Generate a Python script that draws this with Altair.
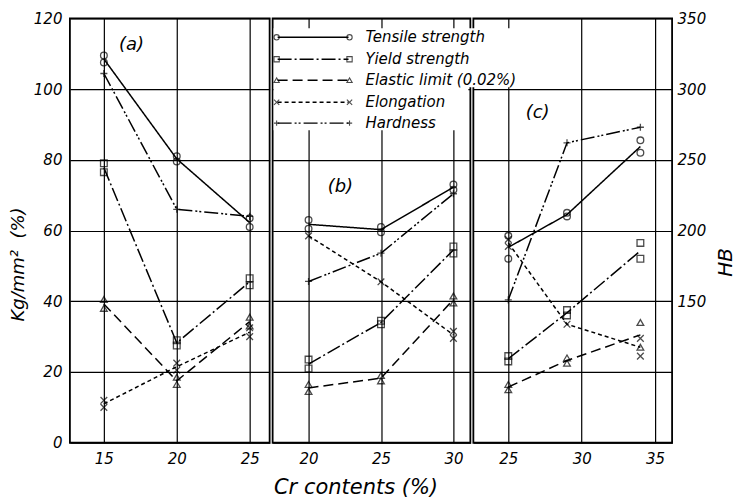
import altair as alt
import pandas as pd

FONT = "DejaVu Sans"

SERIES = ["Tensile strength", "Yield strength", "Elastic limit (0.02%)", "Elongation", "Hardness"]
DASHES = [[1, 0], [14, 3, 2, 3], [10, 5], [4, 3], [14, 3, 2, 2, 2, 3]]
X_PATH = "M-1,-1L1,1M-1,1L1,-1"
PLUS_PATH = "M-1,0L1,0M0,-1L0,1"
SHAPES = ["circle", "square", "triangle-up", X_PATH, PLUS_PATH]

KG_TICKS = [0, 20, 40, 60, 80, 100, 120]
HB_TICKS = [150, 200, 250, 300, 350]

# panel (a)
A_X = [15, 20, 25]
A_XTICKS = [15, 20, 25]
A_TENSILE = [[109.5, 107.5], [81.0, 79.5], [63.5, 61.0]]
A_YIELD = [[79.0, 76.5], [29.0, 27.5], [46.5, 44.5]]
A_ELASTIC = [[40.5, 38.0], [18.5, 16.5], [35.5, 33.0]]
A_ELONG = [[12.0, 10.0], [22.5, 20.5], [32.5, 30.0]]
A_HB = [[311], [215], [210]]

# panel (b)
B_X = [20, 25, 30]
B_XTICKS = [20, 25, 30]
B_TENSILE = [[63.0, 60.5], [61.0, 59.5], [73.0, 71.5]]
B_YIELD = [[23.5, 21.0], [34.5, 33.5], [55.5, 53.5]]
B_ELASTIC = [[16.5, 14.5], [19.0, 17.5], [41.5, 39.5]]
B_ELONG = [[58.5], [45.5], [31.5, 29.5]]
B_HB = [[164], [184], [226]]

# panel (c)
C_X = [25, 29, 34]
C_XTICKS = [25, 30, 35]
C_TENSILE = [[58.5, 52.0], [65.0, 64.0], [85.5, 82.0]]
C_YIELD = [[24.5, 23.0], [37.5, 36.0], [56.5, 52.0]]
C_ELASTIC = [[16.5, 15.0], [24.0, 22.5], [34.0, 27.0]]
C_ELONG = [[57.5, 55.5], [33.5], [29.5, 24.5]]
C_HB = [[151], [262], [273]]

PANEL_LABELS = ["(a)", "(b)", "(c)"]
PANEL_LABEL_X = [16.9, 22.2, 27.0]
PANEL_LABEL_Y = [112.5, 72.3, 93.2]

PLOT_H = 425


def build_long(xs, names, arrays, field):
    rows = []
    for name, arr in zip(names, arrays):
        for xv, vals in zip(xs, arr):
            for v in vals:
                rows.append({"x": xv, "series": name, field: v})
    return pd.DataFrame(rows)


ONE = pd.DataFrame({"k": [0]})

dash_scale = alt.Scale(domain=SERIES[:4], range=DASHES[:4])
shape_scale = alt.Scale(domain=SERIES[:4], range=SHAPES[:4])
kg_scale = alt.Scale(domain=[0, 120], nice=False, zero=False)
hb_scale = alt.Scale(domain=[50, 350], nice=False, zero=False)


def make_panel(idx, xs, xticks, domain, width, arrays, hb):
    df = build_long(xs, SERIES[:4], arrays, "value")
    dhb = build_long(xs, ["Hardness"], [hb], "hb")

    if idx == 1:
        x_axis = alt.Axis(values=xticks, grid=True, ticks=False, domain=False,
                          labelPadding=9, title="Cr contents (%)", titleX=83,
                          titlePadding=10, titleFontSize=21)
    else:
        x_axis = alt.Axis(values=xticks, grid=True, ticks=False, domain=False,
                          labelPadding=9, title="")
    x_enc = alt.X("x:Q", scale=alt.Scale(domain=domain, nice=False, zero=False), axis=x_axis)

    if idx == 0:
        kg_axis = alt.Axis(values=KG_TICKS, grid=True, ticks=False, domain=False,
                           labelPadding=8, title="Kg/mm²\u00a0\u00a0(%)",
                           titlePadding=6, titleY=246, titleAngle=270, titleFontSize=18)
    else:
        kg_axis = alt.Axis(values=KG_TICKS, grid=True, ticks=False, domain=False,
                           labels=False, title="")

    lines = alt.Chart(df).mark_line(color="black", strokeWidth=1.5).encode(
        x=x_enc,
        y=alt.Y("mean(value):Q", scale=kg_scale, axis=kg_axis),
        strokeDash=alt.StrokeDash("series:N", scale=dash_scale, legend=None),
        detail="series:N",
    )
    points = alt.Chart(df).mark_point(color="black", filled=False, size=45, strokeWidth=1.3).encode(
        x=x_enc,
        y=alt.Y("value:Q", scale=kg_scale, axis=kg_axis),
        shape=alt.Shape("series:N", scale=shape_scale, legend=None),
    )
    lab_df = pd.DataFrame({"x": [PANEL_LABEL_X[idx]], "value": [PANEL_LABEL_Y[idx]],
                           "t": [PANEL_LABELS[idx]]})
    label = alt.Chart(lab_df).mark_text(font=FONT, fontStyle="italic", fontSize=18,
                                        color="black").encode(
        x=x_enc, y=alt.Y("value:Q", scale=kg_scale, axis=kg_axis), text="t:N")
    kg_group = alt.layer(lines, points, label)

    if idx == 2:
        hb_axis = alt.Axis(values=HB_TICKS, orient="right", grid=False, ticks=False,
                           domain=False, labelPadding=5, title="HB", titleAngle=270,
                           titleY=244, titlePadding=30, titleFontSize=20)
        hb_y_line = alt.Y("mean(hb):Q", scale=hb_scale, axis=hb_axis)
        hb_y_pt = alt.Y("hb:Q", scale=hb_scale, axis=hb_axis)
    else:
        hb_y_line = alt.Y("mean(hb):Q", scale=hb_scale, axis=None)
        hb_y_pt = alt.Y("hb:Q", scale=hb_scale, axis=None)
    hb_line = alt.Chart(dhb).mark_line(color="black", strokeWidth=1.5,
                                       strokeDash=DASHES[4]).encode(x=x_enc, y=hb_y_line)
    hb_pt = alt.Chart(dhb).mark_point(color="black", filled=False, size=50, strokeWidth=1.3,
                                      shape=PLUS_PATH).encode(x=x_enc, y=hb_y_pt)
    hb_group = alt.layer(hb_line, hb_pt)

    frame = alt.Chart(ONE).mark_rect(fillOpacity=0, stroke="black", strokeWidth=1.8).encode(
        x=alt.value(0), x2=alt.value(width), y=alt.value(0), y2=alt.value(PLOT_H))

    layers = [kg_group, hb_group, frame]

    if idx == 2:
        # white-out behind the legend block
        layers.append(alt.Chart(ONE).mark_rect(color="white").encode(
            x=alt.value(-200), x2=alt.value(-5), y=alt.value(10), y2=alt.value(112)))
        layers.append(alt.Chart(ONE).mark_rect(color="white").encode(
            x=alt.value(-6), x2=alt.value(84), y=alt.value(10), y2=alt.value(69)))
        row_y = [19, 41, 62, 84, 105]
        for i, name in enumerate(SERIES):
            y = row_y[i]
            layers.append(alt.Chart(ONE).mark_rule(color="black", strokeWidth=1.4,
                                                   strokeDash=DASHES[i]).encode(
                x=alt.value(-196), x2=alt.value(-125), y=alt.value(y)))
            for xp in (-197, -124):
                layers.append(alt.Chart(ONE).mark_point(color="black", filled=False, size=28,
                                                        strokeWidth=1.1, shape=SHAPES[i]).encode(
                    x=alt.value(xp), y=alt.value(y)))
            layers.append(alt.Chart(ONE).mark_text(font=FONT, fontStyle="italic", fontSize=15,
                                                   align="left", baseline="middle",
                                                   color="black").encode(
                x=alt.value(-108), y=alt.value(y), text=alt.value(name)))

    return alt.layer(*layers).resolve_scale(y="independent").properties(width=width, height=PLOT_H)


pa = make_panel(0, A_X, A_XTICKS, [12.67, 26.37], 200,
                [A_TENSILE, A_YIELD, A_ELASTIC, A_ELONG], A_HB)
pb = make_panel(1, B_X, B_XTICKS, [17.52, 31.17], 198,
                [B_TENSILE, B_YIELD, B_ELASTIC, B_ELONG], B_HB)
pc = make_panel(2, C_X, C_XTICKS, [22.62, 36.16], 199,
                [C_TENSILE, C_YIELD, C_ELASTIC, C_ELONG], C_HB)

chart = alt.hconcat(pa, pb, pc, spacing=3, bounds="flush").properties(
    padding={"left": 8, "top": 10, "right": 0, "bottom": 0},
    background="white",
).configure_axis(
    labelFont=FONT, labelFontStyle="italic", labelFontSize=15, labelColor="black",
    titleFont=FONT, titleFontStyle="italic", titleFontWeight="normal", titleColor="black",
    gridColor="black", gridOpacity=1, gridWidth=1.2,
).configure_view(stroke="transparent")

chart.save("out.html", embed_options={"renderer": "svg", "actions": False})
